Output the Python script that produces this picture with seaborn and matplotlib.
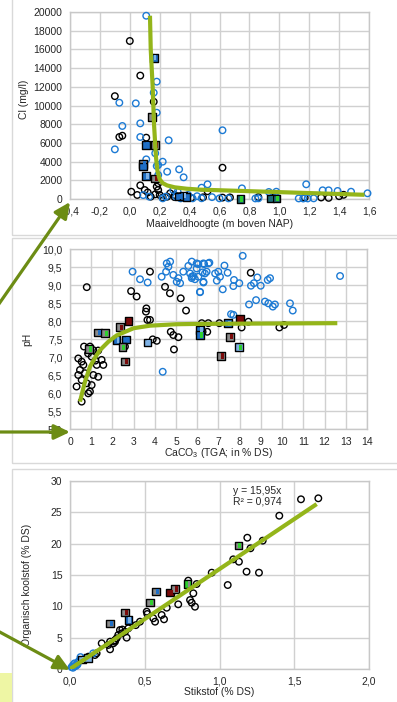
import numpy as np
import pandas as pd
import matplotlib
matplotlib.use("Agg")
import matplotlib.pyplot as plt
from matplotlib.patches import FancyArrowPatch, Rectangle, ArrowStyle
from matplotlib.ticker import FuncFormatter, MultipleLocator
import seaborn as sns

# ---------------- data ----------------
# Panel 1: surface level (m above NAP) vs chloride (mg/l)
bk1_x = [0.00, 0.07, -0.10, 0.16, -0.07, -0.05, 0.11, 0.62, 0.01, 0.07, 0.05, 0.12, 0.10, 0.14,
         0.18, 0.19, 0.19, 0.17, 0.20, 0.25, 0.27, 0.30, 0.52, 0.38, 0.49, 0.62, 0.67, 0.86, 1.17,
         1.28, 1.33, 1.43, 0.30, 0.33, 0.22, 0.41, 0.96, 1.40]
bk1_y = [16900, 13200, 11000, 10400, 6630, 6770, 6560, 3350, 780, 1460, 430, 700, 960, 250,
         1320, 960, 1680, 500, 430, 250, 610, 430, 830, 200, 180, 150, 170, 200, 150,
         160, 120, 450, 200, 300, 150, 100, 150, 300]
bl1_x = [0.11, 0.16, 0.18, 0.16, -0.07, 0.04, 0.18, -0.05, 0.07, 0.07, 0.26, -0.10, 0.11, 0.17,
         0.22, 0.18, 0.33, 0.36, 0.25, 0.19, 0.19, 0.62, 0.52, 0.48, 0.75, 1.18, 1.29, 1.33, 1.39,
         1.48, 1.59, 0.93, 0.98, 0.09, 0.13, 0.22, 0.24, 0.31, 0.34, 0.37, 0.39, 0.32, 0.29, 0.36,
         0.42, 0.48, 0.60, 0.66, 0.84, 0.86, 0.97, 1.13, 1.16, 1.19, 1.23, 0.45, 0.55]
bl1_y = [19600, 15100, 12550, 11370, 10300, 10230, 9230, 7810, 8090, 6630, 6280, 5310, 4240, 4890,
         3990, 3530, 3170, 2320, 2920, 3640, 2570, 7350, 1570, 1210, 1140, 1570, 930, 930, 860,
         780, 610, 750, 780, 420, 250, 70, 250, 250, 70, 250, 430, 780, 960, 200,
         70, 80, 70, 70, 60, 70, 70, 60, 50, 60, 70, 300, 200]
sq1_x = [0.16, 0.15, 0.11, 0.17, 0.09, 0.09, 0.11, 0.17, 0.33, 0.36, 0.38, 0.74, 0.94, 0.98]
sq1_y = [15100, 8800, 5780, 5780, 3740, 3460, 2460, 2210, 250, 350, 200, 0, 60, 60]
sq1_c = ["BL", "GG", "BB", "GR", "GB", "BB", "BL", "GR", "BB", "BL", "BB", "TN", "TT", "TN"]
trend1_x = [0.135, 0.14, 0.153, 0.162, 0.175, 0.185, 0.20, 0.22, 0.25, 0.30, 0.38, 0.47, 1.57]
trend1_y = [19600, 16000, 12000, 8000, 4500, 3000, 2100, 1700, 1450, 1250, 1100, 1000, 450]

# Panel 2: CaCO3 (% DS) vs pH
bk2_x = [0.79, 3.77, 2.88, 3.14, 4.48, 4.71, 5.22, 5.47, 3.60, 3.58, 3.65, 3.77, 3.90, 4.09,
         4.75, 4.87, 5.11, 4.90, 2.59, 0.39, 0.55, 0.63, 0.47, 0.39, 0.31, 0.55, 0.79, 1.02,
         0.86, 0.94, 0.55, 1.10, 1.33, 1.26, 1.49, 1.57, 1.33, 0.66, 0.94, 1.02, 1.10, 8.52,
         6.21, 6.52, 7.04, 8.09, 8.41, 9.87, 10.09, 6.25, 6.47, 0.70, 0.85, 1.20]
bk2_y = [8.94, 9.37, 8.83, 8.68, 8.95, 8.77, 8.63, 8.29, 8.35, 8.26, 8.03, 8.03, 7.49, 7.45,
         7.70, 7.61, 7.55, 7.21, 7.29, 6.96, 6.87, 6.78, 6.64, 6.50, 6.18, 6.36, 6.27, 6.22,
         5.99, 6.04, 5.76, 6.50, 6.45, 6.78, 6.92, 6.78, 7.18, 7.29, 7.29, 7.01, 7.19, 9.34,
         7.94, 7.94, 7.94, 7.82, 7.98, 7.82, 7.89, 7.70, 7.70, 6.55, 7.10, 6.90]
bl2_x = [2.95, 3.30, 3.66, 4.37, 6.13, 4.32, 4.53, 4.64, 4.72, 4.56, 4.87, 5.03, 5.19, 5.11,
         5.34, 5.58, 5.66, 5.74, 5.81, 5.97, 6.05, 6.29, 6.29, 6.44, 6.52, 8.14, 12.73, 5.74,
         6.05, 6.32, 6.57, 5.97, 5.74, 5.89, 6.25, 6.36, 6.29, 6.13, 6.84, 6.99, 6.92, 7.07,
         7.43, 7.28, 7.20, 7.73, 7.70, 7.98, 8.53, 8.67, 8.83, 8.99, 9.32, 9.43, 8.44, 8.77,
         9.19, 9.35, 9.56, 9.66, 10.37, 10.50, 7.59, 7.70]
bl2_y = [9.37, 9.16, 9.07, 6.59, 8.81, 9.23, 9.37, 9.51, 9.65, 9.60, 9.28, 9.09, 9.05, 9.19,
         9.37, 9.53, 9.32, 9.19, 9.25, 9.60, 9.23, 9.60, 9.09, 9.37, 9.60, 9.81, 9.25, 9.65,
         9.58, 9.58, 9.62, 9.46, 9.23, 9.16, 9.35, 9.32, 9.07, 8.80, 9.32, 9.37, 9.12, 9.23,
         9.34, 9.54, 8.88, 9.14, 8.97, 9.05, 8.98, 9.05, 9.21, 8.98, 9.14, 9.19, 8.46, 8.58,
         8.54, 8.49, 8.40, 8.46, 8.49, 8.29, 8.19, 8.17]
sq2_x = [1.33, 1.65, 0.90, 2.36, 2.75, 2.20, 2.64, 2.47, 2.59, 3.65, 6.13, 6.13, 8.02, 7.46,
         7.54, 7.98, 7.12]
sq2_y = [7.68, 7.66, 7.22, 7.83, 8.00, 7.47, 7.49, 7.27, 6.87, 7.40, 7.75, 7.61, 8.05, 7.94,
         7.56, 7.27, 7.03]
sq2_c = ["GB", "GN", "GN", "GR", "RR", "BL", "BB", "GN", "GR", "LL", "BL", "BN", "RR", "BL",
         "GR", "LN", "GR"]
trend2_x = [0.47, 0.70, 0.94, 1.20, 1.41, 1.80, 2.20, 3.00, 3.77, 5.00, 6.10, 12.60]
trend2_y = [5.76, 6.30, 6.73, 7.00, 7.19, 7.42, 7.60, 7.80, 7.87, 7.91, 7.92, 7.94]

# Panel 3: nitrogen (% DS) vs organic carbon (% DS)
bk3_x = [0.948, 0.847, 0.791, 0.825, 0.803, 0.814, 0.836, 0.724, 0.647, 0.613, 0.629, 0.569,
         0.557, 0.513, 0.517, 0.468, 0.379, 0.368, 0.334, 0.346, 0.323, 0.312, 0.301, 0.290,
         0.268, 0.256, 0.268, 0.212, 0.390, 0.167, 0.123, 0.178, 1.545, 1.661, 1.400, 1.186,
         1.289, 1.207, 1.092, 1.130, 1.181, 1.264, 1.055, 0.440, 0.350, 0.300]
bk3_y = [15.37, 13.56, 14.10, 12.08, 11.01, 10.58, 9.94, 10.32, 9.78, 8.62, 7.93, 7.55,
         8.09, 9.15, 8.78, 7.55, 5.00, 5.95, 6.22, 5.69, 5.43, 4.90, 4.36, 4.10,
         4.36, 3.83, 3.14, 4.10, 6.49, 2.23, 1.97, 2.50, 27.08, 27.24, 24.46, 20.95,
         20.48, 19.26, 17.50, 17.12, 15.53, 15.37, 13.40, 7.00, 6.30, 4.60]
bl3_x = [0.01, 0.02, 0.03, 0.04, 0.05, 0.06, 0.02, 0.07, 0.10, 0.155, 0.03, 0.05]
bl3_y = [0.3, 0.6, 0.9, 0.5, 1.0, 1.3, 0.2, 1.9, 1.7, 2.5, 0.4, 0.7]
sq3_x = [0.268, 0.368, 0.390, 0.575, 0.535, 0.669, 0.702, 0.787, 1.126, 0.08, 0.12]
sq3_y = [7.29, 8.99, 7.82, 12.34, 10.64, 12.23, 12.77, 13.56, 19.68, 1.5, 1.8]
sq3_c = ["GB", "GR", "BL", "GB", "GN", "RR", "GR", "NG", "GN", "LL", "LL"]
slope3 = 15.95
r2_3 = 0.974
trend3_x = [0.0, 1.65]

# ---------------- style ----------------
W, H = 397, 702
FONT = "Liberation Sans"
sns.set_theme(style="white")
plt.rcParams["font.family"] = [FONT, "DejaVu Sans"]
plt.rcParams["mathtext.fontset"] = "custom"
plt.rcParams["mathtext.rm"] = FONT
plt.rcParams["mathtext.it"] = FONT + ":italic"

TXT = "#262626"
GRID = "#d0d0d0"
BLUE_EDGE = "#1c7ad4"
TREND = "#94b51a"
ARROW = "#6c8c14"
FILLS = {"B": "#1f6fc6", "L": "#7fb2e5", "G": "#8a8a8a", "R": "#7a0a0a",
         "N": "#2fd02f", "T": "#1f6e78"}

fig = plt.figure(figsize=(W / 100, H / 100), dpi=100)
fig.patch.set_facecolor("white")


def fx(x):
    return x / W


def fy(y):
    return 1 - y / H


def px_axes(left, top, right, bottom):
    return fig.add_axes([fx(left), fy(bottom), (right - left) / W, (bottom - top) / H])


# panel frames
for top, bottom in [(-5, 235), (238, 463), (469, 710)]:
    fig.add_artist(Rectangle((fx(12), fy(bottom)), fx(400 - 12), (bottom - top) / H,
                             transform=fig.transFigure, fill=False, ec="#d9d9d9", lw=1.0))
fig.add_artist(Rectangle((0, 0), fx(12), (H - 673) / H, transform=fig.transFigure,
                         fc="#eef6a4", ec="none"))


def comma(fmt):
    return FuncFormatter(lambda v, p: (fmt % v).replace(".", ","))


def style_axes(ax, xlim, ylim, xstep, ystep, xfmt, yfmt):
    ax.set_xlim(*xlim)
    ax.set_ylim(*ylim)
    ax.xaxis.set_major_locator(MultipleLocator(xstep))
    ax.yaxis.set_major_locator(MultipleLocator(ystep))
    ax.xaxis.set_major_formatter(comma(xfmt))
    ax.yaxis.set_major_formatter(comma(yfmt))
    ax.grid(True, color=GRID, lw=1.0)
    ax.set_axisbelow(True)
    for s in ax.spines.values():
        s.set_color("#c8c8c8")
        s.set_linewidth(1.0)
    ax.tick_params(length=0, pad=5.5, labelsize=7.5, colors=TXT)


def draw_points(ax, bx, by, ux, uy, sx, sy, sc, trend_x, trend_y):
    sns.scatterplot(x=bx, y=by, ax=ax, color="black", facecolor="none", edgecolor="black",
                    linewidth=1.0, s=22, marker="o", clip_on=False, zorder=3)
    sns.scatterplot(x=ux, y=uy, ax=ax, color=BLUE_EDGE, facecolor="none", edgecolor=BLUE_EDGE,
                    linewidth=1.0, s=22, marker="o", clip_on=False, zorder=3)
    sq = pd.DataFrame({"x": sx, "y": sy,
                       "left": [FILLS[c[0]] for c in sc], "right": [FILLS[c[1]] for c in sc]})
    sns.scatterplot(data=sq, x="x", y="y", ax=ax, marker="s", s=30, color="black",
                    facecolor=sq["left"].tolist(), edgecolor="black", linewidth=1.0,
                    clip_on=False, zorder=4)
    ax.scatter(sq["x"], sq["y"], marker=matplotlib.markers.MarkerStyle("s", fillstyle="right"),
               s=14, c=sq["right"].tolist(), linewidths=0, clip_on=False, zorder=5)
    sns.lineplot(x=trend_x, y=trend_y, ax=ax, sort=False, color=TREND, lw=3.0,
                 zorder=6, solid_capstyle="butt")


# ---- panel 1 ----
ax1 = px_axes(70, 12, 369, 199)
draw_points(ax1, bk1_x, bk1_y, bl1_x, bl1_y, sq1_x, sq1_y, sq1_c, trend1_x, trend1_y)
style_axes(ax1, (-0.4, 1.6), (0, 20000), 0.2, 2000, "%.1f", "%.0f")
ax1.set_xlabel("Maaiveldhoogte (m boven NAP)", fontsize=7.5, color=TXT)
ax1.set_ylabel("Cl (mg/l)", fontsize=7.5, color=TXT)
ax1.xaxis.set_label_coords(0.5, -0.105)
ax1.yaxis.set_label_coords((29 - 70) / 299, 0.535)

# ---- panel 2 ----
ax2 = px_axes(70, 249, 367, 429)
draw_points(ax2, bk2_x, bk2_y, bl2_x, bl2_y, sq2_x, sq2_y, sq2_c, trend2_x, trend2_y)
style_axes(ax2, (0, 14), (5, 10), 1, 0.5, "%.0f", "%.1f")
ax2.set_xlabel(r"CaCO$_3$ (TGA; in % DS)", fontsize=7.5, color=TXT)
ax2.set_ylabel("pH", fontsize=7.5, color=TXT)
ax2.xaxis.set_label_coords(0.5, -0.095)
ax2.yaxis.set_label_coords((32 - 70) / 297, 0.5)

# ---- panel 3 ----
ax3 = px_axes(70, 481, 369, 669)
trend3_y = [slope3 * v for v in trend3_x]
draw_points(ax3, bk3_x, bk3_y, bl3_x, bl3_y, sq3_x, sq3_y, sq3_c, trend3_x, trend3_y)
style_axes(ax3, (0, 2.0), (0, 30), 0.5, 5, "%.1f", "%.0f")
ax3.set_xlabel("Stikstof (% DS)", fontsize=7.5, color=TXT)
ax3.set_ylabel("Organisch koolstof (% DS)", fontsize=7.5, color=TXT)
ax3.xaxis.set_label_coords(0.5, -0.095)
ax3.yaxis.set_label_coords((32 - 70) / 299, 0.447)
ax3.text(1.25, 28.4, ("y = %.2fx" % slope3).replace(".", ","), fontsize=7.5, color=TXT,
         ha="center", va="center")
ax3.text(1.25, 26.7, ("R² = %.3f" % r2_3).replace(".", ","), fontsize=7.5, color=TXT,
         ha="center", va="center")

# ---- pointer arrows ----
head = ArrowStyle("-|>", head_length=0.95, head_width=0.45)
for (x0, y0), (x1, y1) in [((-6, 311), (70, 202)), ((-4, 432), (70, 432)), ((-4, 630), (70, 670))]:
    fig.add_artist(FancyArrowPatch((fx(x0), fy(y0)), (fx(x1), fy(y1)), transform=fig.transFigure,
                                   arrowstyle=head, mutation_scale=10, lw=2.3, color=ARROW,
                                   shrinkA=0, shrinkB=0, zorder=20))

fig.savefig("out.png", dpi=100, facecolor="white")
